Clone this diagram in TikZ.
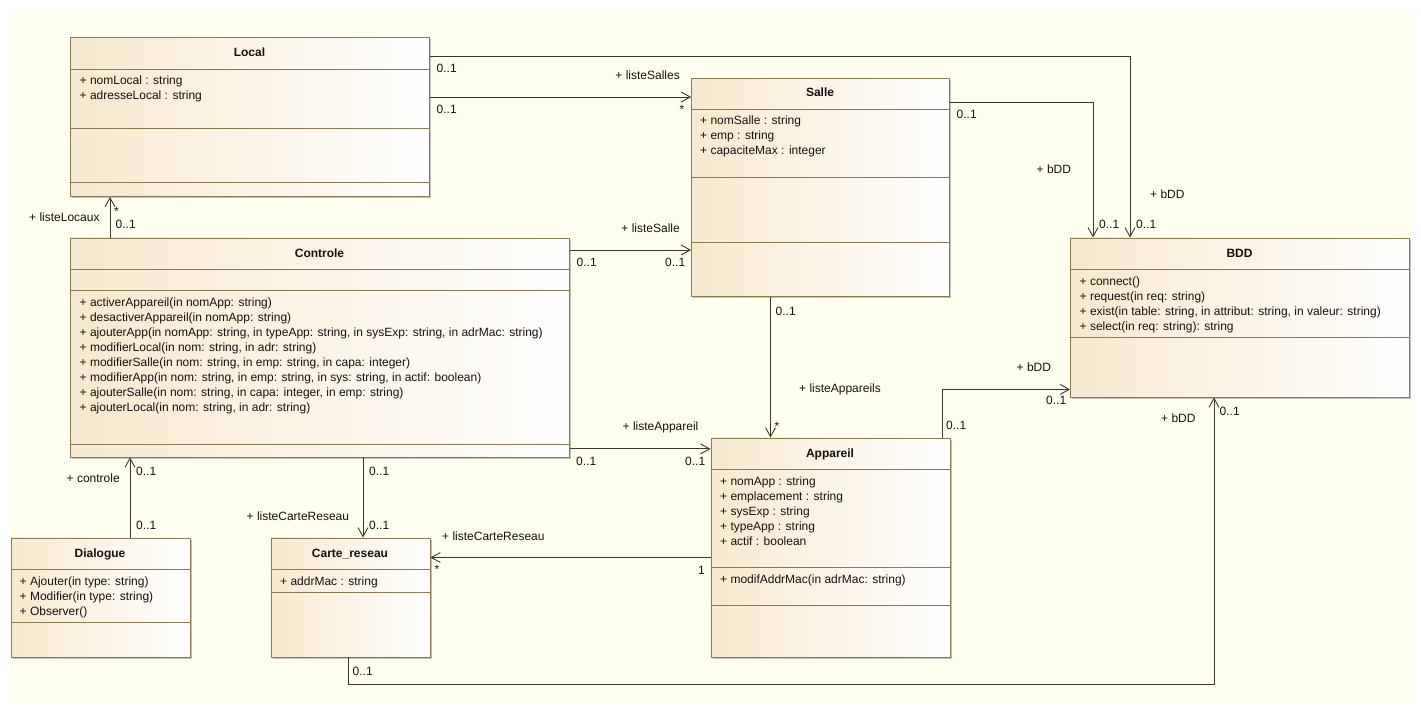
\documentclass[tikz,border=0pt]{standalone}
\usepackage{fontspec}
\setmainfont{Liberation Sans}
\usetikzlibrary{arrows.meta,shadows,calc}
\definecolor{bgcol}{RGB}{255,255,240}
\definecolor{boxtan}{RGB}{247,233,206}
\definecolor{bordercol}{RGB}{140,122,84}
\definecolor{linecol}{RGB}{62,56,42}
\definecolor{shadowcol}{RGB}{196,194,184}
\definecolor{txtcol}{RGB}{24,16,16}
\begin{document}
\begin{tikzpicture}[x=1pt,y=-1pt,
  classbox/.style={draw=bordercol,line width=0.9pt,left color=boxtan,right color=white,inner sep=0pt,anchor=north west,
     drop shadow={shadow xshift=2pt,shadow yshift=-2pt,fill=shadowcol,opacity=1}},
  sepline/.style={draw=bordercol,line width=0.9pt},
  member/.style={font=\fontsize{12}{14}\selectfont,inner sep=0pt,text height=11pt,text depth=3pt,anchor=west,text=txtcol},
  ctitle/.style={member,font=\fontsize{12}{14}\selectfont\bfseries,anchor=center},
  lab/.style={member},
  assoc/.style={draw=linecol,line width=0.9pt,-{Straight Barb[length=9pt,width=10pt]}},
]
\useasboundingbox (0,0) rectangle (1421,714);
\fill[white] (0,0) rectangle (1421,714);
\fill[bgcol] (10,10) rectangle (1411,704);

% ---------------- classes ----------------
% Local
\node[classbox,minimum width=359pt,minimum height=159pt] (local) at (70,37) {};
\node[ctitle] (localT) at (249.5,53) {Local};
\draw[sepline] (70,69) -- (429,69);
\draw[sepline] (70,128) -- (429,128);
\draw[sepline] (70,182) -- (429,182);
\foreach \t [count=\i] in {{+ nomLocal : string},{+ adresseLocal : string}}
  \node[member] (localA\i) at (79.5,{81+15*(\i-1)}) {\t};

% Salle
\node[classbox,minimum width=258pt,minimum height=218pt] (salle) at (691,78) {};
\node[ctitle] (salleT) at (820,93) {Salle};
\draw[sepline] (691,109.5) -- (949,109.5);
\draw[sepline] (691,177) -- (949,177);
\draw[sepline] (691,242) -- (949,242);
\foreach \t [count=\i] in {{+ nomSalle : string},{+ emp : string},{+ capaciteMax : integer}}
  \node[member] (salleA\i) at (700,{121+15*(\i-1)}) {\t};

% BDD
\node[classbox,minimum width=339pt,minimum height=159pt] (bdd) at (1070,237.5) {};
\node[ctitle] (bddT) at (1239.5,253) {BDD};
\draw[sepline] (1070,269.5) -- (1409,269.5);
\draw[sepline] (1070,337.5) -- (1409,337.5);
\foreach \t [count=\i] in {{+ connect()},{+ request(in req: string)},{+ exist(in table: string, in attribut: string, in valeur: string)},{+ select(in req: string): string}}
  \node[member] (bddO\i) at (1079.5,{281+15*(\i-1)}) {\t};

% Controle
\node[classbox,minimum width=499pt,minimum height=219pt] (controle) at (70,237.5) {};
\node[ctitle] (controleT) at (319.5,253) {Controle};
\draw[sepline] (70,269.5) -- (569,269.5);
\draw[sepline] (70,290.5) -- (569,290.5);
\draw[sepline] (70,444) -- (569,444);
\foreach \t [count=\i] in {{+ activerAppareil(in nomApp: string)},{+ desactiverAppareil(in nomApp: string)},{+ ajouterApp(in nomApp: string, in typeApp: string, in sysExp: string, in adrMac: string)},{+ modifierLocal(in nom: string, in adr: string)},{+ modifierSalle(in nom: string, in emp: string, in capa: integer)},{+ modifierApp(in nom: string, in emp: string, in sys: string, in actif: boolean)},{+ ajouterSalle(in nom: string, in capa: integer, in emp: string)},{+ ajouterLocal(in nom: string, in adr: string)}}
  \node[member] (controleO\i) at (79.5,{302+15*(\i-1)}) {\t};

% Appareil
\node[classbox,minimum width=239pt,minimum height=219pt] (appareil) at (710.5,437.5) {};
\node[ctitle] (appareilT) at (830,453) {Appareil};
\draw[sepline] (710.5,469.5) -- (949.5,469.5);
\draw[sepline] (710.5,567.5) -- (949.5,567.5);
\draw[sepline] (710.5,605.5) -- (949.5,605.5);
\foreach \t [count=\i] in {{+ nomApp : string},{+ emplacement : string},{+ sysExp : string},{+ typeApp : string},{+ actif : boolean}}
  \node[member] (appareilA\i) at (720,{481+15*(\i-1)}) {\t};
\node[member] (appareilO1) at (720,579) {+ modifAddrMac(in adrMac: string)};

% Dialogue
\node[classbox,minimum width=179pt,minimum height=119pt] (dialogue) at (10.5,537.5) {};
\node[ctitle] (dialogueT) at (100,553) {Dialogue};
\draw[sepline] (10.5,569) -- (189.5,569);
\draw[sepline] (10.5,622.5) -- (189.5,622.5);
\foreach \t [count=\i] in {{+ Ajouter(in type: string)},{+ Modifier(in type: string)},{+ Observer()}}
  \node[member] (dialogueO\i) at (19.5,{581+15*(\i-1)}) {\t};

% Carte_reseau
\node[classbox,minimum width=159pt,minimum height=119pt] (carte) at (270.5,537.5) {};
\node[ctitle] (carteT) at (350,553) {Carte\_reseau};
\draw[sepline] (270.5,569) -- (429.5,569);
\draw[sepline] (270.5,592.5) -- (429.5,592.5);
\node[member] (carteA1) at (280,581) {+ addrMac : string};

% ---------------- connectors ----------------
% 1 Local -> BDD
\coordinate (l1) at ([yshift=-19pt]local.north east);
\draw[assoc] (l1) -| ([xshift=60pt]bdd.north west);
\node[lab] (l1a) at (436.5,69) {0..1};
\node[lab] (l1b) at (1150,195) {+ bDD};
\node[lab] (l1c) at (1136,224.5) {0..1};

% 2 Local -> Salle
\coordinate (l2) at ([yshift=-60pt]local.north east);
\draw[assoc] (l2) -- (l2 -| salle.west);
\node[lab] (l2a) at (436.5,110) {0..1};
\node[lab,anchor=east] (l2b) at (680,76) {+ listeSalles};
\node[lab] (l2c) at (679.5,110) {*};

% 3 Salle -> BDD
\coordinate (s1) at ([yshift=-24pt]salle.north east);
\draw[assoc] (s1) -| ([xshift=23pt]bdd.north west);
\node[lab] (s1a) at (956.5,115) {0..1};
\node[lab] (s1b) at (1036.5,170) {+ bDD};
\node[lab] (s1c) at (1099,224.5) {0..1};

% 4 Controle -> Local
\coordinate (c1) at ([xshift=40pt]controle.north west);
\draw[assoc] (c1) -- (c1 |- local.south);
\node[lab] (c1a) at (29,218) {+ listeLocaux};
\node[lab] (c1b) at (114,211) {*};
\node[lab] (c1c) at (115.5,225) {0..1};

% 5 Controle -> Salle
\coordinate (c2) at ([yshift=-12.5pt]controle.north east);
\draw[assoc] (c2) -- (c2 -| salle.west);
\node[lab] (c2a) at (576.5,262.5) {0..1};
\node[lab,anchor=east] (c2b) at (680,229) {+ listeSalle};
\node[lab] (c2c) at (665,262.5) {0..1};

% 6 Salle -> Appareil
\coordinate (s2) at ([xshift=79.5pt]salle.south west);
\draw[assoc] (s2) -- (s2 |- appareil.north);
\node[lab] (s2a) at (775.5,311) {0..1};
\node[lab] (s2b) at (799,388) {+ listeAppareils};
\node[lab] (s2c) at (774.5,426) {*};

% 7 Controle -> Appareil
\coordinate (c3) at ([yshift=8.5pt]controle.south east);
\draw[assoc] (c3) -- (c3 -| appareil.west);
\node[lab] (c3a) at (576,461) {0..1};
\node[lab] (c3b) at (622.5,426.5) {+ listeAppareil};
\node[lab] (c3c) at (685,461) {0..1};

% 8 Appareil -> BDD
\coordinate (a1) at ([xshift=-8pt]appareil.north east);
\draw[assoc] (a1) |- ([yshift=8pt]bdd.south west);
\node[lab] (a1a) at (946,425) {0..1};
\node[lab] (a1b) at (1016.5,367) {+ bDD};
\node[lab] (a1c) at (1046,400.5) {0..1};

% 9 Controle -> Carte_reseau
\coordinate (c4) at ([xshift=293pt]controle.south west);
\draw[assoc] (c4) -- (c4 |- carte.north);
\node[lab] (c4a) at (369,471) {0..1};
\node[lab] (c4b) at (246.5,516) {+ listeCarteReseau};
\node[lab] (c4c) at (369,525) {0..1};

% 10 Dialogue -> Controle
\coordinate (d1) at ([xshift=119.5pt]dialogue.north west);
\draw[assoc] (d1) -- (d1 |- controle.south);
\node[lab] (d1a) at (66.5,478) {+ controle};
\node[lab] (d1b) at (136,471) {0..1};
\node[lab] (d1c) at (136,525) {0..1};

% 11 Appareil -> Carte_reseau
\coordinate (a2) at ([yshift=-120pt]appareil.north west);
\draw[assoc] (a2) -- (a2 -| carte.east);
\node[lab] (a2a) at (442,536) {+ listeCarteReseau};
\node[lab] (a2b) at (434.5,569.5) {*};
\node[lab] (a2c) at (698,570) {1};

% 12 Carte_reseau -> BDD
\coordinate (k1) at ([xshift=77.5pt]carte.south west);
\draw[assoc] (k1) -- ++(0,27) -| ([xshift=144pt]bdd.south west);
\node[lab] (k1a) at (352.5,671) {0..1};
\node[lab] (k1b) at (1161,418) {+ bDD};
\node[lab] (k1c) at (1219.5,411) {0..1};
\end{tikzpicture}
\end{document}
